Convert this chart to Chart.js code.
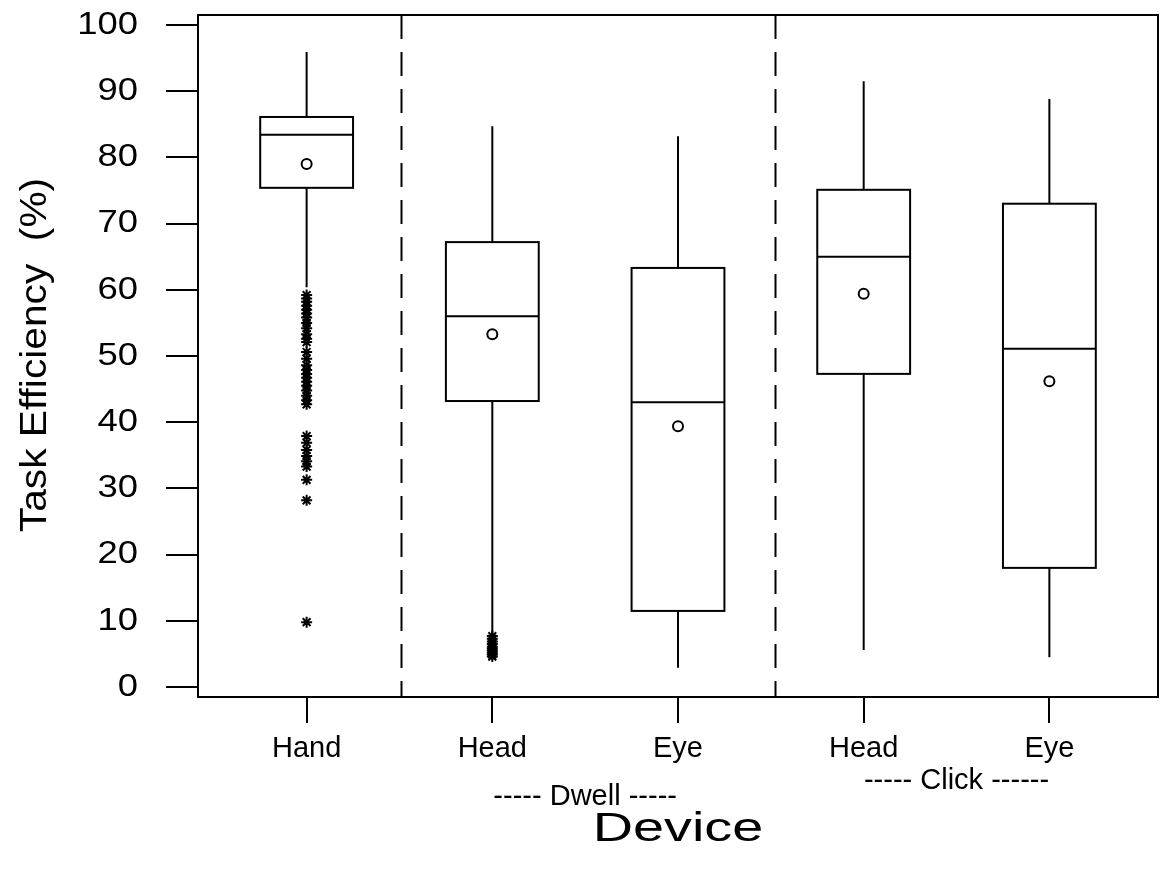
<!DOCTYPE html>
<html>
<head>
<meta charset="utf-8">
<script src="https://cdn.jsdelivr.net/npm/chart.js@4"></script>
<style>
  html, body { margin: 0; padding: 0; background: #fff; }
  #wrap { width: 1160px; height: 878px; }
</style>
</head>
<body>
<div id="wrap"><canvas id="boxChart" width="1160" height="878"></canvas></div>
<script>
// categories, ticks and group labels
const devices = ['Hand', 'Head', 'Eye', 'Head', 'Eye'];
const positions = [1, 2, 3, 4, 5];
const yTicks = [0, 10, 20, 30, 40, 50, 60, 70, 80, 90, 100];
const groupLabels = ['----- Dwell -----', '----- Click ------'];
const groupCenters = [2.5, 4.5];
const separators = [1.51, 3.525];

// box plot summaries (Task Efficiency %)
const whiskerLow = [60.4, 7.9, 2.9, 5.6, 4.5];
const q1 = [75.4, 43.2, 11.5, 47.3, 18.0];
const medians = [83.4, 56.0, 43.0, 65.0, 51.1];
const q3 = [86.1, 67.2, 63.3, 75.1, 73.0];
const whiskerHigh = [95.9, 84.7, 83.2, 91.5, 88.8];
const means = [79.0, 53.3, 39.4, 59.4, 46.2];

// outliers (asterisks)
const handOutliers = [59.2, 58.7, 58.2, 57.6, 57.0, 56.4, 55.8, 55.0, 54.2, 53.3, 52.6, 52.1,
    50.6, 49.6, 48.6, 47.9, 47.3, 46.7, 46.1, 45.5, 44.8, 44.0, 43.3, 42.7,
    37.9, 36.9, 35.8, 34.9, 34.1, 33.3, 31.3, 28.2, 9.8];
const dwellHeadOutliers = [7.7, 7.3, 6.9, 6.5, 6.1, 5.8, 5.5, 5.2, 4.9, 4.6];

const boxHalfWidth = 0.25;
const FONT = "'Liberation Sans', Arial, sans-serif";

const outlierPoints = [
    ...handOutliers.map(v => ({ x: positions[0], y: v })),
    ...dwellHeadOutliers.map(v => ({ x: positions[1], y: v }))
];
const meanPoints = means.map((v, i) => ({ x: positions[i], y: v }));

// text with a horizontal stretch, like the original export
function stretchedText(ctx, text, x, y, sx) {
    ctx.save();
    ctx.translate(x, y);
    ctx.scale(sx, 1);
    ctx.fillText(text, 0, 0);
    ctx.restore();
}

// draws frame, separators, boxes, whiskers and text from the scales
const boxPlotPlugin = {
    id: 'boxPlotPlugin',
    beforeDatasetsDraw(chart) {
        const { ctx, chartArea: a, scales: { x, y } } = chart;
        ctx.save();
        ctx.strokeStyle = '#000';
        ctx.lineWidth = 2;

        // dashed group separators
        ctx.setLineDash([24, 13]);
        separators.forEach(s => {
            const px = Math.round(x.getPixelForValue(s)) + 0.5;
            ctx.beginPath();
            ctx.moveTo(px, a.top);
            ctx.lineTo(px, a.bottom);
            ctx.stroke();
        });
        ctx.setLineDash([]);

        positions.forEach((p, i) => {
            const cx = x.getPixelForValue(p);
            const left = x.getPixelForValue(p - boxHalfWidth);
            const right = x.getPixelForValue(p + boxHalfWidth);
            const yLo = y.getPixelForValue(whiskerLow[i]);
            const yQ1 = y.getPixelForValue(q1[i]);
            const yMed = y.getPixelForValue(medians[i]);
            const yQ3 = y.getPixelForValue(q3[i]);
            const yHi = y.getPixelForValue(whiskerHigh[i]);

            ctx.beginPath();
            ctx.moveTo(cx, yHi); ctx.lineTo(cx, yQ3);
            ctx.moveTo(cx, yQ1); ctx.lineTo(cx, yLo);
            ctx.stroke();

            ctx.strokeRect(left, yQ3, right - left, yQ1 - yQ3);
            ctx.beginPath();
            ctx.moveTo(left, yMed); ctx.lineTo(right, yMed);
            ctx.stroke();
        });

        // frame
        ctx.strokeRect(a.left, a.top, a.right - a.left, a.bottom - a.top);
        ctx.restore();
    },
    afterDraw(chart) {
        const { ctx, scales: { x, y } } = chart;
        ctx.save();
        ctx.fillStyle = '#000';
        ctx.textBaseline = 'middle';

        // y tick labels
        ctx.textAlign = 'right';
        ctx.font = '32px ' + FONT;
        yTicks.forEach(v => stretchedText(ctx, String(v), 138, y.getPixelForValue(v), 1.14));

        // x tick labels
        ctx.textAlign = 'center';
        ctx.font = '29px ' + FONT;
        devices.forEach((d, i) => ctx.fillText(d, x.getPixelForValue(positions[i]), 749));

        ctx.fillText(groupLabels[0], x.getPixelForValue(groupCenters[0]), 797);
        ctx.fillText(groupLabels[1], x.getPixelForValue(groupCenters[1]), 781);

        ctx.font = '41px ' + FONT;
        stretchedText(ctx, 'Device', x.getPixelForValue(3), 830, 1.36);

        ctx.font = '37px ' + FONT;
        ctx.translate(36, 355);
        ctx.rotate(-Math.PI / 2);
        stretchedText(ctx, 'Task Efficiency  (%)', 0, 0, 1.1);
        ctx.restore();
    }
};

const ctx = document.getElementById('boxChart').getContext('2d');
new Chart(ctx, {
    type: 'scatter',
    data: {
        datasets: [
            {
                label: 'Outliers',
                data: outlierPoints,
                pointStyle: 'star',
                radius: 5.5,
                borderColor: '#000',
                borderWidth: 2,
                backgroundColor: '#000'
            },
            {
                label: 'Mean',
                data: meanPoints,
                pointStyle: 'circle',
                radius: 5,
                borderColor: '#000',
                borderWidth: 2,
                backgroundColor: '#fff'
            }
        ]
    },
    options: {
        responsive: false,
        animation: false,
        devicePixelRatio: 1,
        layout: { autoPadding: false, padding: { top: 15, right: 2, left: 0, bottom: 0 } },
        plugins: {
            legend: { display: false },
            tooltip: { enabled: false }
        },
        scales: {
            x: {
                type: 'linear',
                min: 0.415,
                max: 5.585,
                afterBuildTicks: scale => { scale.ticks = positions.map(v => ({ value: v })); },
                afterFit: scale => {
                    scale.height = 181;
                    scale.paddingLeft = 0;
                    scale.paddingRight = 0;
                },
                border: { display: false },
                grid: { drawOnChartArea: false, drawTicks: true, tickLength: 26, tickColor: '#000', lineWidth: 2 },
                ticks: { display: false }
            },
            y: {
                min: -1.5,
                max: 101.5,
                afterBuildTicks: scale => { scale.ticks = yTicks.map(v => ({ value: v })); },
                afterFit: scale => {
                    scale.width = 198;
                    scale.paddingTop = 0;
                    scale.paddingBottom = 0;
                },
                border: { display: false },
                grid: { drawOnChartArea: false, drawTicks: true, tickLength: 32, tickColor: '#000', lineWidth: 2 },
                ticks: { display: false }
            }
        }
    },
    plugins: [boxPlotPlugin]
});
</script>
</body>
</html>
